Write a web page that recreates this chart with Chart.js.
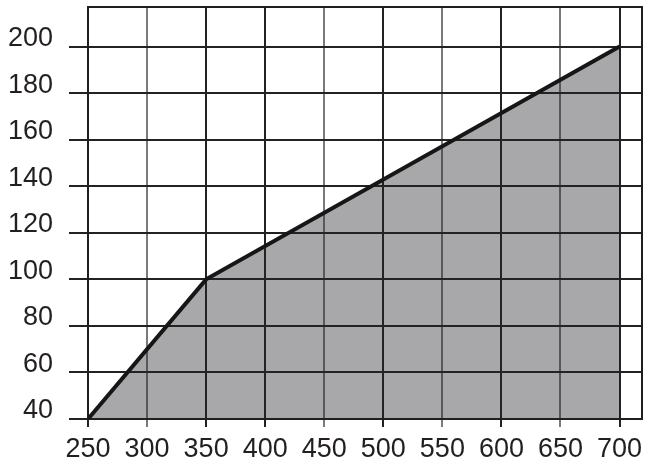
<!DOCTYPE html>
<html>
<head>
<meta charset="utf-8">
<script src="https://cdn.jsdelivr.net/npm/chart.js@4/dist/chart.umd.min.js"></script>
<style>
    html, body { margin: 0; padding: 0; background: #fff; }
    #wrap { width: 650px; height: 458px; }
</style>
</head>
<body>
<div id="wrap"><canvas id="chart"></canvas></div>
<script>
/* data */
const xValues = [250, 350, 700];
const yValues = [40, 100, 200];
const xTicks = [250, 300, 350, 400, 450, 500, 550, 600, 650, 700];
const yTicks = [40, 60, 80, 100, 120, 140, 160, 180, 200];
const lightLines = [300, 450, 550, 650];

const points = xValues.map((x, i) => ({ x: x, y: yValues[i] }));

/* top and right frame of the plot box */
const frame = {
    id: "frame",
    afterDatasetsDraw(chart) {
        const a = chart.chartArea;
        const ctx = chart.ctx;
        ctx.save();
        ctx.strokeStyle = "#1e1e1e";
        ctx.lineWidth = 2;
        ctx.beginPath();
        ctx.moveTo(a.left, a.top);
        ctx.lineTo(a.right, a.top);
        ctx.lineTo(a.right, a.bottom);
        ctx.stroke();
        ctx.restore();
    }
};

new Chart(document.getElementById("chart"), {
    type: "line",
    data: {
        datasets: [{
            data: points,
            borderColor: "#161616",
            borderWidth: 4,
            backgroundColor: "rgba(38,36,40,0.4)",
            fill: "start",
            pointRadius: 0,
            tension: 0
        }]
    },
    options: {
        responsive: true,
        maintainAspectRatio: false,
        animation: false,
        layout: { padding: { top: 7, right: 8, left: 0, bottom: 0 } },
        plugins: {
            legend: { display: false },
            tooltip: { enabled: false }
        },
        scales: {
            x: {
                type: "linear",
                min: 250,
                max: 719,
                afterBuildTicks: (scale) => {
                    scale.ticks = xTicks.map(v => ({ value: v }));
                },
                afterFit: (scale) => {
                    scale.height = 39;
                    scale.paddingLeft = 0;
                    scale.paddingRight = 0;
                },
                grid: {
                    color: (c) => lightLines.includes(c.tick && c.tick.value) ? "#7a7a7a" : "#222",
                    lineWidth: 2,
                    tickLength: 8
                },
                border: { display: true, color: "#1e1e1e", width: 2 },
                ticks: {
                    color: "#231f20",
                    font: { family: "'Liberation Sans', Arial, sans-serif", size: 27 },
                    padding: 6,
                    maxRotation: 0,
                    autoSkip: false
                }
            },
            y: {
                type: "linear",
                min: 40,
                max: 217,
                afterBuildTicks: (scale) => {
                    scale.ticks = yTicks.map(v => ({ value: v }));
                },
                afterFit: (scale) => {
                    scale.width = 88;
                    scale.paddingTop = 0;
                    scale.paddingBottom = 0;
                },
                grid: {
                    color: "#222",
                    lineWidth: 2,
                    tickLength: 19
                },
                border: { display: true, color: "#1e1e1e", width: 2 },
                ticks: {
                    color: "#231f20",
                    font: { family: "'Liberation Sans', Arial, sans-serif", size: 27 },
                    padding: 16,
                    labelOffset: -8
                }
            }
        }
    },
    plugins: [frame]
});
</script>
</body>
</html>
